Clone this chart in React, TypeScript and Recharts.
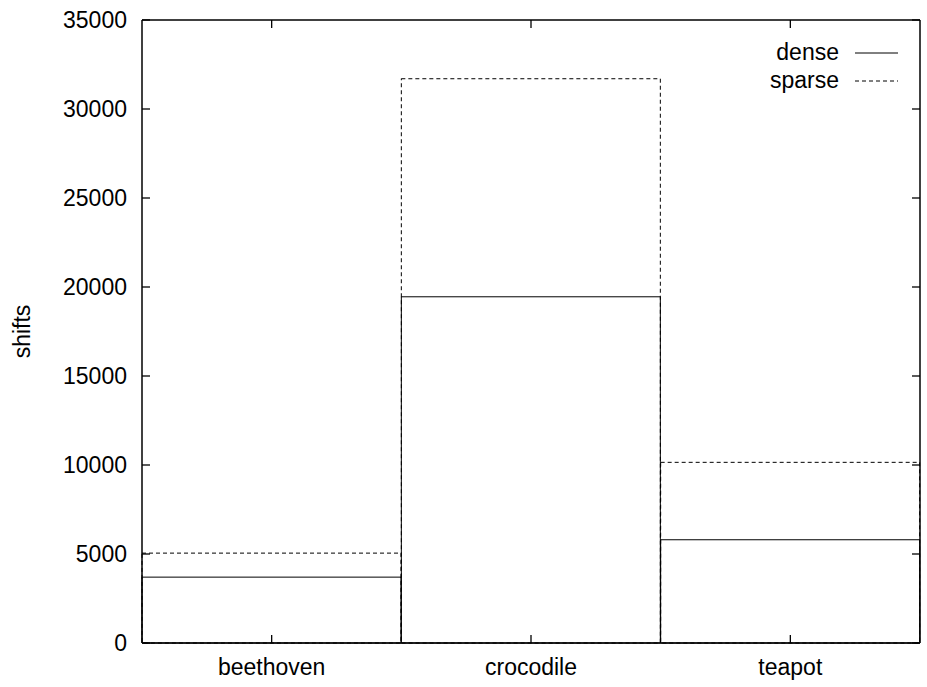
import { BarChart, Bar, XAxis, YAxis, Legend } from "recharts";

const categories = ["beethoven", "crocodile", "teapot"];
const denseShifts = [3700, 19450, 5800];
const sparseShifts = [5050, 31700, 10150];
const yTicks = [0, 5000, 10000, 15000, 20000, 25000, 30000, 35000];
const seriesNames = ["dense", "sparse"];

const FONT = "'Liberation Sans', Arial, Helvetica, sans-serif";
const FS = 23;

const data = categories.map((name, i) => ({
  name,
  dense: denseShifts[i],
  sparse: sparseShifts[i],
}));

function LeftTick(props: any) {
  const { x, y, payload } = props;
  return (
    <g>
      <line x1={x} y1={y} x2={x + 8} y2={y} stroke="#000" strokeWidth={1.3} />
      <text x={x - 15} y={y} dy="0.36em" textAnchor="end" fontFamily={FONT} fontSize={FS} fill="#000">
        {payload.value}
      </text>
    </g>
  );
}

function RightTick(props: any) {
  const { x, y } = props;
  return <line x1={x} y1={y} x2={x - 8} y2={y} stroke="#000" strokeWidth={1.3} />;
}

function BottomTick(props: any) {
  const { x, y, payload } = props;
  return (
    <g>
      <line x1={x} y1={y} x2={x} y2={y - 8} stroke="#000" strokeWidth={1.3} />
      <text x={x} y={y + 32} textAnchor="middle" fontFamily={FONT} fontSize={FS} fill="#000">
        {payload.value}
      </text>
    </g>
  );
}

function TopTick(props: any) {
  const { x, y } = props;
  return <line x1={x} y1={y} x2={x} y2={y + 8} stroke="#000" strokeWidth={1.3} />;
}

function KeyBox() {
  return (
    <svg width={160} height={64}>
      {seriesNames.map((s, i) => (
        <g key={s}>
          <text x={79} y={29.5 + i * 28} textAnchor="end" fontFamily={FONT} fontSize={FS} fill="#000">
            {s}
          </text>
          <line
            x1={95}
            x2={138}
            y1={23 + i * 28}
            y2={23 + i * 28}
            stroke="#000"
            strokeWidth={1}
            strokeDasharray={i === 1 ? "4 3" : undefined}
          />
        </g>
      ))}
    </svg>
  );
}

export default function App() {
  return (
    <div style={{ position: "absolute", left: 0, top: 0, width: 927, height: 687, background: "#fff" }}>
      <BarChart
        width={927}
        height={687}
        data={data}
        margin={{ top: 19, right: 6, bottom: 0, left: 0 }}
        barCategoryGap={0}
        barGap={0}
      >
        <XAxis
          xAxisId="main"
          dataKey="name"
          height={44}
          axisLine={{ stroke: "#000", strokeWidth: 1.5 }}
          tickLine={false}
          tickSize={0}
          tickMargin={0}
          tick={<BottomTick />}
          interval={0}
        />
        <XAxis
          xAxisId="top"
          dataKey="name"
          orientation="top"
          height={1}
          axisLine={{ stroke: "#000", strokeWidth: 1.5 }}
          tickLine={false}
          tickSize={0}
          tickMargin={0}
          tick={<TopTick />}
          interval={0}
        />
        <YAxis
          yAxisId="left"
          width={142}
          domain={[0, 35000]}
          ticks={yTicks}
          interval={0}
          axisLine={{ stroke: "#000", strokeWidth: 1.5 }}
          tickLine={false}
          tickSize={0}
          tickMargin={0}
          tick={<LeftTick />}
          label={({ viewBox }: any) => (
            <text
              x={22}
              y={viewBox.y + viewBox.height / 2}
              transform={`rotate(-90, 22, ${viewBox.y + viewBox.height / 2})`}
              dy="0.36em"
              textAnchor="middle"
              fontFamily={FONT}
              fontSize={FS}
              fill="#000"
            >
              shifts
            </text>
          )}
        />
        <YAxis
          yAxisId="right"
          orientation="right"
          width={1}
          domain={[0, 35000]}
          ticks={yTicks}
          interval={0}
          axisLine={{ stroke: "#000", strokeWidth: 1.5 }}
          tickLine={false}
          tickSize={0}
          tickMargin={0}
          tick={<RightTick />}
        />
        <Legend
          layout="vertical"
          align="center"
          verticalAlign="middle"
          wrapperStyle={{ left: 760, top: 30, width: 160, height: 64 }}
          content={() => <KeyBox />}
        />
        <Bar
          dataKey="sparse"
          xAxisId="top"
          yAxisId="right"
          fill="none"
          stroke="#000"
          strokeWidth={1}
          strokeDasharray="4 3"
          isAnimationActive={false}
        />
        <Bar
          dataKey="dense"
          xAxisId="main"
          yAxisId="left"
          fill="none"
          stroke="#000"
          strokeWidth={1}
          isAnimationActive={false}
        />
      </BarChart>
    </div>
  );
}
